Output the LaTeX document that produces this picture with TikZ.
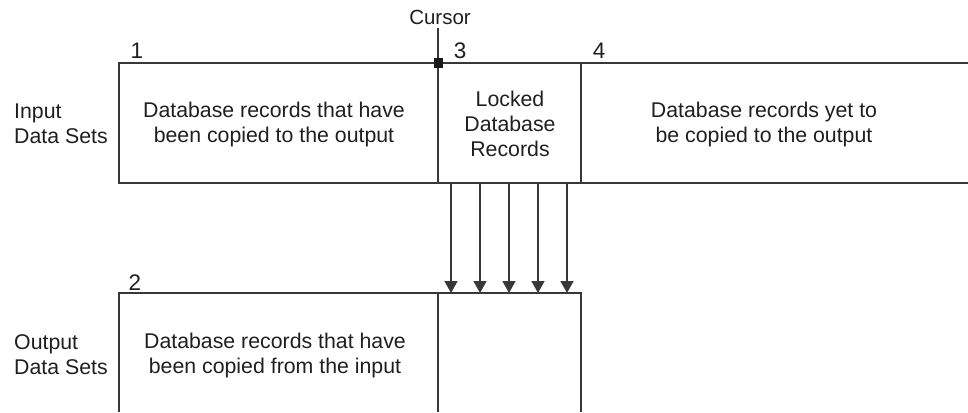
\documentclass[tikz,border=0pt]{standalone}
\usepackage{fontspec}
\setmainfont{Liberation Sans}
\usetikzlibrary{arrows.meta}
\begin{document}
\begin{tikzpicture}[x=1pt,y=-1pt,
  frame/.style={draw=black!78,line width=1.6pt},
  txt/.style={font=\fontsize{21.3}{25}\selectfont,text=black!88,align=center,inner sep=0pt},
  side/.style={txt,align=left,anchor=west},
  num/.style={font=\fontsize{22.5}{25}\selectfont,text=black!88,inner sep=0pt,anchor=base},
  flow/.style={draw=black!78,line width=1.6pt,-{Triangle[width=13pt,length=12pt]}}]
\useasboundingbox (0,0) rectangle (968,412);
% input data sets
\coordinate (inTL) at (119,63);
\coordinate (inBL) at (119,183);
\coordinate (inTR) at (968,63);
\coordinate (inBR) at (968,183);
\coordinate (d1T) at (438,63);
\coordinate (d1B) at (438,183);
\coordinate (d2T) at (581,63);
\coordinate (d2B) at (581,183);
\draw[frame] (inTR) -- (inTL) -- (inBL) -- (inBR);
\draw[frame] (d1T) -- (d1B);
\draw[frame] (d2T) -- (d2B);
% output data sets
\coordinate (outBL) at (119,412);
\coordinate (outTL) at (119,293);
\coordinate (outTR) at (581,293);
\coordinate (outBR) at (581,412);
\coordinate (o1T) at (438,293);
\coordinate (o1B) at (438,412);
\draw[frame] (outBL) -- (outTL) -- (outTR) -- (outBR);
\draw[frame] (o1T) -- (o1B);
% cursor
\coordinate (curTop) at (438,28);
\draw[frame] (curTop) -- (d1T);
\node[fill=black!90,minimum size=9pt,inner sep=0pt] (curMark) at (d1T) {};
\node[num,font=\fontsize{20.5}{25}\selectfont] (cursor) at (440,25) {Cursor};
% numbers
\node[num] (n1) at (137,58.5) {1};
\node[num] (n3) at (460,58.5) {3};
\node[num] (n4) at (599,58.5) {4};
\node[num] (n2) at (135,290.5) {2};
% labels
\node[side] (inLab) at (14,124) {Input\\Data Sets};
\node[side] (outLab) at (14,355) {Output\\Data Sets};
\node[txt] (copied) at (274,124) {Database records that have\\been copied to the output};
\node[txt] (locked) at (510,124) {Locked\\Database\\Records};
\node[txt] (yet) at (764,124) {Database records yet to\\be copied to the output};
\node[txt] (fromin) at (275,355) {Database records that have\\been copied from the input};
% arrows
\foreach \i/\x in {1/451,2/480,3/509,4/538,5/567}{
  \coordinate (a\i) at (\x,183);
  \coordinate (b\i) at (\x,293);
  \draw[flow] (a\i) -- (b\i);
}
\end{tikzpicture}
\end{document}
